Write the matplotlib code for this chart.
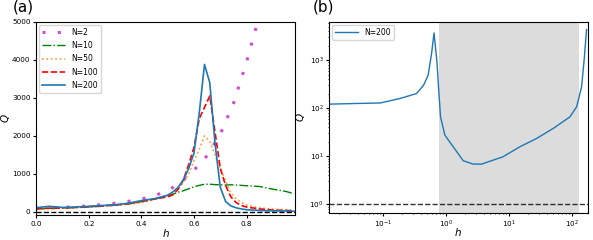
import matplotlib
matplotlib.use("Agg")
import matplotlib.pyplot as plt
import numpy as np

# ---- Panel (a) data ----
h2 = [0.0, 0.1, 0.2, 0.3, 0.35, 0.4, 0.45, 0.5, 0.55, 0.6, 0.65, 0.7, 0.75, 0.8, 0.84]
q2 = [100, 120, 160, 230, 280, 340, 430, 560, 780, 1100, 1480, 2050, 2850, 3950, 4950]

ha = [0.0, 0.05, 0.1, 0.15, 0.2, 0.25, 0.3, 0.35, 0.4, 0.45, 0.5, 0.52, 0.54, 0.56, 0.58,
      0.6, 0.62, 0.64, 0.66, 0.68, 0.7, 0.72, 0.74, 0.76, 0.78, 0.8, 0.85, 0.9, 0.95, 0.98]
q10 = [80, 90, 100, 115, 130, 150, 180, 210, 270, 340, 420, 470, 520, 560, 610,
       660, 700, 730, 730, 720, 715, 710, 715, 710, 700, 690, 670, 600, 540, 480]
q50 = [90, 100, 110, 120, 140, 160, 180, 200, 240, 330, 450, 520, 620, 780, 1000,
       1350, 1650, 2000, 1850, 1500, 1150, 820, 500, 350, 250, 180, 110, 75, 60, 50]
q100 = [90, 100, 110, 120, 140, 160, 180, 220, 280, 340, 400, 450, 600, 850, 1250,
        1700, 2450, 2750, 3050, 2100, 1150, 700, 400, 250, 170, 130, 80, 50, 40, 30]
q200 = [110, 150, 120, 130, 150, 170, 190, 230, 300, 350, 440, 530, 650, 850, 1150,
        1550, 2600, 3880, 3400, 1800, 650, 280, 160, 110, 80, 60, 40, 30, 25, 20]

# ---- Panel (b) data ----
hb = [0.0138, 0.03, 0.09, 0.186, 0.34, 0.44, 0.52, 0.59, 0.645, 0.72, 0.76, 0.82, 0.96,
      1.88, 2.7, 3.7, 8.1, 15, 27.6, 50.8, 93.7, 120, 144, 158, 173]
qb = [122, 125, 129, 160, 203, 302, 490, 1380, 3700, 900, 278, 66, 27.6,
      8.1, 6.9, 6.9, 9.8, 15.8, 23.5, 38, 66, 107, 278, 1000, 4370]

fig = plt.figure(figsize=(5.93, 2.4), dpi=100)
ax1 = fig.add_axes([0.061, 0.104, 0.436, 0.805])
ax2 = fig.add_axes([0.555, 0.111, 0.436, 0.798])

ax1.plot(h2, q2, color='m', linestyle=(0, (1.0, 4)), lw=2.2, alpha=0.7, label='N=2')
ax1.plot(ha, q10, color='g', linestyle='-.', lw=1.0, label='N=10')
ax1.plot(ha, q50, color='C1', linestyle=':', lw=1.2, alpha=0.8, label='N=50')
ax1.plot(ha, q100, color='r', linestyle='--', lw=1.2, label='N=100')
ax1.plot(ha, q200, color='C0', linestyle='-', lw=1.2, label='N=200')
ax1.axhline(1, color='k', linestyle='--', lw=1.0)
ax1.set_xlim(0, 0.983)
ax1.set_ylim(-80, 5000)
ax1.set_xlabel('$h$', fontsize=7.5)
ax1.set_ylabel('$Q$', fontsize=7.5)
ax1.xaxis.set_label_coords(0.5, -0.06)
ax1.yaxis.set_label_coords(-0.095, 0.5)
ax1.tick_params(labelsize=5.2, length=2, pad=2)
ax1.legend(loc='upper left', fontsize=5.5, handlelength=3, labelspacing=0.55,
           borderaxespad=0.4)

ax2.axvspan(0.78, 131, color='#dcdcdc', lw=0)
ax2.loglog(hb, qb, color='C0', lw=1.0, label='N=200')
ax2.axhline(1, color='k', linestyle='--', lw=1.0, alpha=0.8)
ax2.set_xlim(0.0138, 180)
ax2.set_ylim(0.65, 6300)
ax2.set_xlabel('$h$', fontsize=7.5)
ax2.set_ylabel('$Q$', fontsize=7.5)
ax2.xaxis.set_label_coords(0.5, -0.065)
ax2.yaxis.set_label_coords(-0.085, 0.5)
ax2.tick_params(labelsize=5.2, length=2, pad=2)
ax2.tick_params(which='minor', length=1)
ax2.legend(loc='upper left', fontsize=5.5, handlelength=3, borderaxespad=0.4)

fig.text(0.022, 1.0, '(a)', fontsize=11, va='top', ha='left')
fig.text(0.527, 1.0, '(b)', fontsize=11, va='top', ha='left')

fig.savefig('out.png', dpi=100)
